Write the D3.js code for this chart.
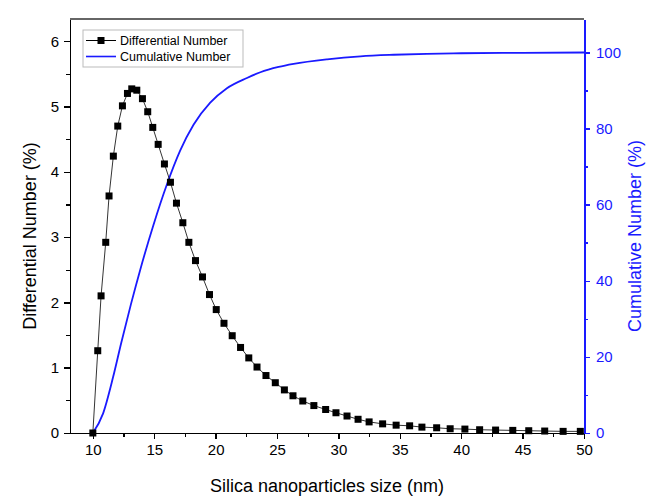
<!DOCTYPE html>
<html>
<head>
<meta charset="utf-8">
<script src="https://cdn.jsdelivr.net/npm/d3@7"></script>
<style>
  body { margin: 0; background: #fff; }
  svg { font-family: "Liberation Sans", Arial, sans-serif; }
  .axis path, .axis line { shape-rendering: crispEdges; }
</style>
</head>
<body>
<svg id="chart" width="654" height="498"></svg>
<script>
// Differential number (%) vs particle size (nm)
const sizes = [10, 10.4, 10.67, 11.05, 11.32, 11.67, 12.03, 12.41, 12.82, 13.17,
  13.58, 14.04, 14.47, 14.88, 15.32, 15.83, 16.32, 16.81, 17.33, 17.82,
  18.36, 18.93, 19.5, 20.05, 20.68, 21.35, 22.03, 22.7, 23.37, 24.1,
  24.86, 25.6, 26.3, 27.1, 28.0, 28.96, 29.8, 30.7, 31.6, 32.5,
  33.6, 34.7, 35.8, 36.8, 38.0, 39.1, 40.3, 41.5, 42.8, 44.2,
  45.5, 46.8, 48.3, 49.7];
const differential = [0, 1.26, 2.1, 2.92, 3.63, 4.24, 4.7, 5.01, 5.2, 5.27,
  5.25, 5.12, 4.92, 4.68, 4.42, 4.12, 3.84, 3.52, 3.22, 2.92,
  2.64, 2.39, 2.12, 1.89, 1.68, 1.49, 1.31, 1.15, 1.01, 0.88,
  0.77, 0.66, 0.57, 0.49, 0.42, 0.36, 0.31, 0.26, 0.21, 0.17,
  0.14, 0.12, 0.11, 0.09, 0.08, 0.065, 0.06, 0.05, 0.045, 0.04,
  0.035, 0.03, 0.025, 0.025];

// Cumulative number (%) curve
const cumSizes = [10, 10.83, 11.65, 12.32, 13.1, 13.85, 14.93, 16.03, 17.11, 18.2,
  19.56, 20.92, 22.55, 23.64, 25.13, 26.35, 29.08, 31.8, 34.5, 37.2, 40, 45, 50];
const cumulative = [0, 5.1, 14.7, 23.8, 33.8, 42.8, 54.6, 65.3, 74.2, 81,
  86.8, 90.6, 93.3, 94.8, 96.2, 97.0, 98.2, 99.0, 99.4, 99.65, 99.8, 99.9, 100];

const xTicks = [10, 15, 20, 25, 30, 35, 40, 45, 50];
const leftTicks = [0, 1, 2, 3, 4, 5, 6];
const rightTicks = [0, 20, 40, 60, 80, 100];

const svg = d3.select('#chart');
const margin = { top: 19, right: 70, bottom: 65, left: 70 };
const width = +svg.attr('width') - margin.left - margin.right;
const height = +svg.attr('height') - margin.top - margin.bottom;
const blue = '#1a1aff';

const x = d3.scaleLinear().domain([8.14, 50]).range([0, width]);
const yL = d3.scaleLinear().domain([0, 6.34]).range([height, 0]);
const yR = d3.scaleLinear().domain([0, 108.8]).range([height, 0]);

const g = svg.append('g').attr('transform', `translate(${margin.left},${margin.top})`);

// minor ticks first
const minorX = d3.range(12.5, 50, 5);
g.append('g').attr('class', 'axis')
  .attr('transform', `translate(0,${height})`)
  .call(d3.axisBottom(x).tickValues(minorX).tickSize(4).tickFormat(''))
  .call(a => a.select('.domain').remove());
g.append('g').attr('class', 'axis')
  .call(d3.axisLeft(yL).tickValues(d3.range(0.5, 6.34, 1)).tickSize(4).tickFormat(''))
  .call(a => a.select('.domain').remove());
g.append('g').attr('class', 'axis')
  .attr('transform', `translate(${width},0)`)
  .call(d3.axisRight(yR).tickValues(d3.range(10, 108, 20)).tickSize(4).tickFormat(''))
  .call(a => { a.select('.domain').remove(); a.selectAll('line').attr('stroke', blue).attr('stroke-width', 1.5); });

// main axes
const fmt = d3.format('d');
const xAxis = g.append('g').attr('class', 'axis')
  .attr('transform', `translate(0,${height})`)
  .call(d3.axisBottom(x).tickValues(xTicks).tickFormat(fmt).tickSize(6).tickSizeOuter(0).tickPadding(5));
xAxis.selectAll('text').attr('font-size', 15).attr('fill', '#000');

const lAxis = g.append('g').attr('class', 'axis')
  .call(d3.axisLeft(yL).tickValues(leftTicks).tickFormat(fmt).tickSize(6).tickSizeOuter(0).tickPadding(5));
lAxis.selectAll('text').attr('font-size', 15).attr('fill', '#000');

const rAxis = g.append('g').attr('class', 'axis')
  .attr('transform', `translate(${width},0)`)
  .call(d3.axisRight(yR).tickValues(rightTicks).tickFormat(fmt).tickSize(6).tickSizeOuter(0).tickPadding(6));
rAxis.select('.domain').attr('stroke', blue).attr('stroke-width', 2);
rAxis.selectAll('line').attr('stroke', blue).attr('stroke-width', 1.5);
rAxis.selectAll('text').attr('font-size', 15).attr('fill', blue);

[xAxis, lAxis].forEach(a => {
  a.select('.domain').attr('stroke-width', 1.5);
  a.selectAll('line').attr('stroke-width', 1.5);
});
g.selectAll('.axis line').filter(function () { return !this.getAttribute('stroke-width'); })
  .attr('stroke-width', 1.2);

// top frame
g.append('line')
  .attr('x1', 0).attr('x2', width).attr('y1', 0).attr('y2', 0)
  .attr('stroke', '#333').attr('stroke-width', 1.5);

// cumulative curve
g.append('path')
  .datum(cumSizes.map((s, i) => [s, cumulative[i]]))
  .attr('fill', 'none')
  .attr('stroke', blue)
  .attr('stroke-width', 1.8)
  .attr('d', d3.line().x(d => x(d[0])).y(d => yR(d[1])).curve(d3.curveMonotoneX));

// differential line + squares
const diffData = sizes.map((s, i) => [s, differential[i]]);
g.append('path')
  .datum(diffData)
  .attr('fill', 'none')
  .attr('stroke', '#000')
  .attr('stroke-width', 0.8)
  .attr('d', d3.line().x(d => x(d[0])).y(d => yL(d[1])));

const sq = 7;
g.selectAll('rect.pt').data(diffData).enter().append('rect')
  .attr('class', 'pt')
  .attr('x', d => x(d[0]) - sq / 2)
  .attr('y', d => yL(d[1]) - sq / 2)
  .attr('width', sq).attr('height', sq)
  .attr('fill', '#000');

// axis titles
svg.append('text')
  .attr('x', margin.left + width / 2).attr('y', 492)
  .attr('text-anchor', 'middle').attr('font-size', 18)
  .text('Silica nanoparticles size (nm)');
svg.append('text')
  .attr('transform', `translate(36,${margin.top + height / 2 + 10}) rotate(-90)`)
  .attr('text-anchor', 'middle').attr('font-size', 18)
  .text('Differential Number (%)');
svg.append('text')
  .attr('transform', `translate(641,${margin.top + height / 2 + 10}) rotate(-90)`)
  .attr('text-anchor', 'middle').attr('font-size', 18).attr('fill', blue)
  .text('Cumulative Number (%)');

// legend
const leg = svg.append('g').attr('transform', 'translate(83,30)');
leg.append('rect')
  .attr('width', 160).attr('height', 37)
  .attr('fill', '#fff').attr('stroke', '#bbb').attr('stroke-width', 1);
leg.append('line').attr('x1', 3).attr('x2', 33).attr('y1', 10.5).attr('y2', 10.5)
  .attr('stroke', '#000').attr('stroke-width', 1);
leg.append('rect').attr('x', 14.5).attr('y', 7).attr('width', 7).attr('height', 7).attr('fill', '#000');
leg.append('line').attr('x1', 3).attr('x2', 33).attr('y1', 26.5).attr('y2', 26.5)
  .attr('stroke', blue).attr('stroke-width', 1.6);
leg.append('text').attr('x', 37).attr('y', 15).attr('font-size', 12.5).text('Differential Number');
leg.append('text').attr('x', 37).attr('y', 31).attr('font-size', 12.5).text('Cumulative Number');
</script>
</body>
</html>
